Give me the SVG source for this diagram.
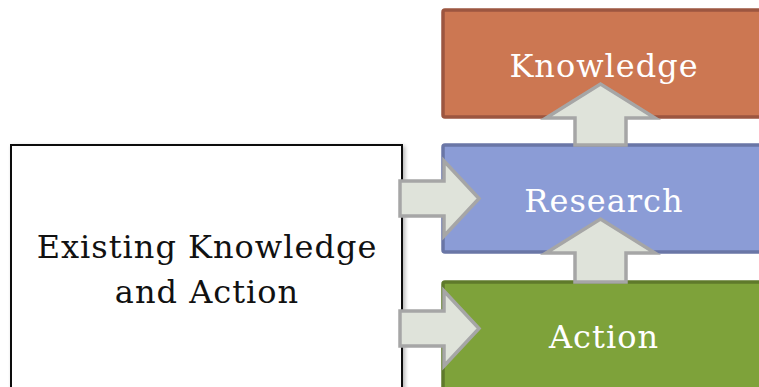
<svg xmlns="http://www.w3.org/2000/svg" width="759" height="387" viewBox="0 0 759 387">
<defs>
<filter id="sh" x="-5%" y="-5%" width="115%" height="115%">
<feGaussianBlur in="SourceAlpha" stdDeviation="2"/>
<feOffset dx="2" dy="2"/>
<feComponentTransfer><feFuncA type="linear" slope="0.3"/></feComponentTransfer>
<feMerge><feMergeNode/><feMergeNode in="SourceGraphic"/></feMerge>
</filter>
</defs>
<style>
.lbl{font-family:"DejaVu Serif","Liberation Serif",serif;font-size:32px;letter-spacing:1px;text-anchor:middle;fill:#ffffff}
.dark{fill:#111111}
.arr{fill:#DFE3DA;stroke:#A6A6A6;stroke-width:3.5;stroke-linejoin:miter}
</style>
<rect width="759" height="387" fill="#ffffff"/>
<g id="existing">
<rect x="11" y="145" width="391" height="244" fill="#ffffff" stroke="#111111" stroke-width="2" filter="url(#sh)"/>
<text class="lbl dark" x="207" y="258">Existing Knowledge</text>
<text class="lbl dark" x="207" y="303">and Action</text>
</g>
<g id="knowledge">
<rect x="443" y="10" width="330" height="107" rx="2" fill="#CC7752" stroke="#9C5640" stroke-width="3.5"/>
<text class="lbl" x="604" y="77">Knowledge</text>
</g>
<g id="research">
<rect x="443" y="145" width="330" height="107" rx="2" fill="#8B9CD6" stroke="#6A76A6" stroke-width="3.5"/>
<text class="lbl" x="604" y="212">Research</text>
</g>
<g id="action">
<rect x="443" y="282" width="330" height="120" rx="2" fill="#7EA23A" stroke="#5F7A2B" stroke-width="3.5"/>
<text class="lbl" x="604" y="348">Action</text>
</g>
<g id="connectors">
<polygon class="arr" points="400,181 444,181 444,161 479,198.5 444,236 444,216 400,216"/>
<polygon class="arr" points="400,311 444,311 444,291 479,328.5 444,366 444,346 400,346"/>
<polygon class="arr" points="575,145 575,118 546,118 600.5,84 655,118 626,118 626,145"/>
<polygon class="arr" points="575,282 575,253 546,253 600.5,219 655,253 626,253 626,282"/>
</g>
</svg>
